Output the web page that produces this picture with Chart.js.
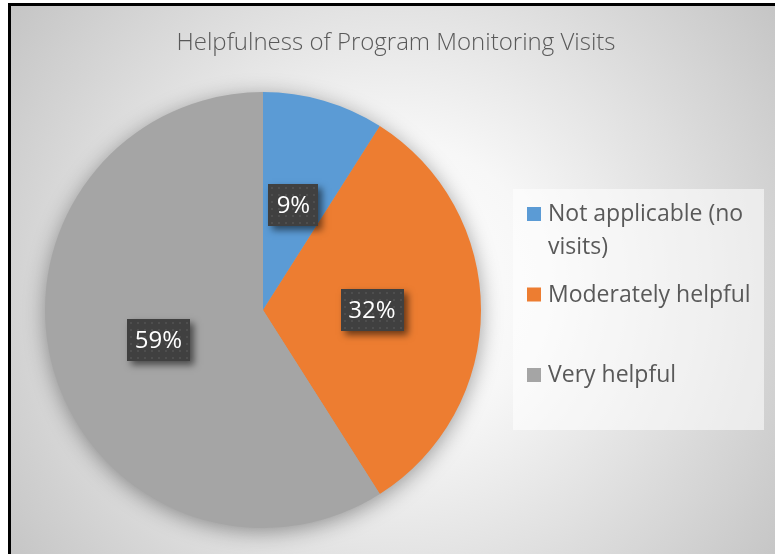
<!DOCTYPE html>
<html><head><meta charset="utf-8">
<script src="https://cdn.jsdelivr.net/npm/chart.js@4"></script>
<style>html,body{margin:0;padding:0;background:#fff;overflow:hidden}canvas{display:block}</style>
</head><body>
<canvas id="c" width="775" height="554"></canvas>
<script>
const chartTitle = 'Helpfulness of Program Monitoring Visits';
const categories = ['Not applicable (no visits)', 'Moderately helpful', 'Very helpful'];
const values = [9, 32, 59];
const valueLabels = ['9%', '32%', '59%'];
const colors = ['#5b9bd5', '#ed7d31', '#a5a5a5'];

const FONT = '"Open Sans", "DejaVu Sans", sans-serif';

const frame = {
  id: 'frame',
  beforeDraw(chart) {
    const ctx = chart.ctx;
    ctx.save();
    ctx.fillStyle = '#ffffff';
    ctx.fillRect(0, 0, 775, 554);
    const g = ctx.createRadialGradient(395, 285, 0, 395, 285, 480);
    g.addColorStop(0, '#ffffff');
    g.addColorStop(0.3, '#f7f7f7');
    g.addColorStop(1, '#c4c4c4');
    ctx.fillStyle = g;
    ctx.fillRect(10, 5, 765, 549);
    ctx.fillStyle = '#000';
    ctx.fillRect(8, 3, 3, 551);
    ctx.fillRect(8, 3, 767, 3);
    // title
    ctx.fillStyle = '#595959';
    ctx.font = '300 24px ' + FONT;
    ctx.textAlign = 'center';
    ctx.textBaseline = 'alphabetic';
    ctx.fillText(chartTitle, 396, 50);
    // legend
    ctx.fillStyle = 'rgba(255,255,255,0.55)';
    ctx.fillRect(513, 189, 251, 241);
    ctx.font = '23px ' + FONT;
    ctx.textAlign = 'left';
    categories.forEach((cat, i) => {
      const base = 221 + i * 80.5;
      ctx.fillStyle = colors[i];
      ctx.fillRect(527, base - 14, 14, 14);
      ctx.fillStyle = '#595959';
      const words = cat.split(' ');
      let line = '';
      const lines = [];
      words.forEach(w => {
        const test = line ? line + ' ' + w : w;
        if (ctx.measureText(test).width > 212 && line) { lines.push(line); line = w; }
        else line = test;
      });
      lines.push(line);
      lines.forEach((l, k) => ctx.fillText(l, 548, base + k * 33));
    });
    ctx.restore();
  },
  beforeDatasetsDraw(chart) {
    const arc = chart.getDatasetMeta(0).data[0];
    if (!arc) return;
    const ctx = chart.ctx;
    ctx.save();
    ctx.shadowColor = 'rgba(0,0,0,0.4)';
    ctx.shadowBlur = 22;
    ctx.shadowOffsetY = 4;
    ctx.fillStyle = '#a5a5a5';
    ctx.beginPath();
    ctx.arc(arc.x, arc.y, arc.outerRadius - 1, 0, Math.PI * 2);
    ctx.fill();
    ctx.restore();
  },
  afterDatasetsDraw(chart) {
    const ctx = chart.ctx;
    const meta = chart.getDatasetMeta(0);
    ctx.save();
    ctx.font = '24px ' + FONT;
    meta.data.forEach((el, i) => {
      const p = el.tooltipPosition();
      const cx = p.x, cy = p.y;
      const txt = valueLabels[i];
      const w = Math.round(ctx.measureText(txt).width + 16), h = 42;
      const x = Math.round(cx - w / 2), y = Math.round(cy - h / 2);
      ctx.save();
      ctx.shadowColor = 'rgba(0,0,0,0.55)';
      ctx.shadowBlur = 7;
      ctx.shadowOffsetX = 4;
      ctx.shadowOffsetY = 4;
      ctx.fillStyle = '#404040';
      ctx.fillRect(x, y, w, h);
      ctx.restore();
      ctx.fillStyle = '#4e4e4e';
      for (let dx = 3; dx < w - 1; dx += 7) {
        for (let dy = 3; dy < h - 1; dy += 7) ctx.fillRect(x + dx, y + dy, 2, 2);
      }
      ctx.fillStyle = '#ffffff';
      ctx.textAlign = 'center';
      ctx.textBaseline = 'middle';
      ctx.fillText(txt, cx, cy + 1);
    });
    ctx.restore();
  }
};

new Chart(document.getElementById('c'), {
  type: 'pie',
  data: {
    labels: categories,
    datasets: [{ data: values, backgroundColor: colors, borderWidth: 0 }]
  },
  options: {
    responsive: false,
    animation: false,
    layout: { padding: { left: 45, right: 294, top: 92, bottom: 26 } },
    plugins: { legend: { display: false }, tooltip: { enabled: false }, title: { display: false } }
  },
  plugins: [frame]
});
</script>
</body></html>
